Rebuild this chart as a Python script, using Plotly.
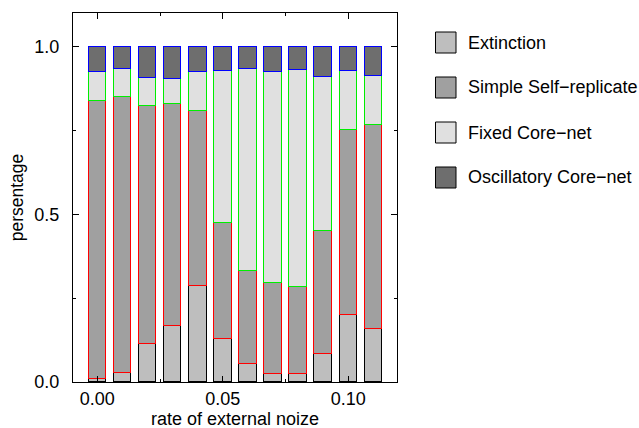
import plotly.graph_objects as go

# ---- data ----
noise_rates = [0.00, 0.01, 0.02, 0.03, 0.04, 0.05, 0.06, 0.07, 0.08, 0.09, 0.10, 0.11]
series_names = ["Extinction", "Simple Self\u2212replicate", "Fixed Core\u2212net", "Oscillatory Core\u2212net"]
extinction = [0.010, 0.028, 0.114, 0.166, 0.285, 0.127, 0.054, 0.023, 0.023, 0.083, 0.201, 0.158]
simple_self_replicate = [0.827, 0.822, 0.709, 0.663, 0.523, 0.347, 0.276, 0.272, 0.260, 0.367, 0.551, 0.607]
fixed_core_net = [0.088, 0.082, 0.082, 0.073, 0.117, 0.453, 0.603, 0.630, 0.648, 0.458, 0.175, 0.148]
oscillatory_core_net = [0.075, 0.068, 0.095, 0.098, 0.075, 0.073, 0.067, 0.075, 0.069, 0.092, 0.073, 0.087]
x_tick_vals = [0.00, 0.05, 0.10]
x_tick_text = ["0.00", "0.05", "0.10"]
y_tick_vals = [0.0, 0.5, 1.0]
y_tick_text = ["0.0", "0.5", "1.0"]
x_title = "rate of external noize"
y_title = "persentage"

# ---- styles ----
fills = ["#bebebe", "#a0a0a0", "#e0e0e0", "#6e6e6e"]
outlines = ["#000000", "#ff0000", "#00ee00", "#0000ff"]
FONT = "Liberation Sans, Arial, Helvetica, sans-serif"
FS = 18

W, H = 639, 428
ML, MR, MT, MB = 73, 242, 13, 46

fig = go.Figure()
for name, vals, fc, lc in zip(series_names,
                              [extinction, simple_self_replicate, fixed_core_net, oscillatory_core_net],
                              fills, outlines):
    fig.add_trace(go.Bar(x=noise_rates, y=vals, name=name, width=0.007,
                         marker=dict(color=fc, line=dict(color=lc, width=1)),
                         showlegend=False))

# helpers: pixel position -> paper coordinates
pw = W - ML - MR
ph = H - MT - MB
def px_x(p):
    return (p - ML) / pw
def px_y(p):
    return 1 - (p - MT) / ph

# manual legend (big square patches, like the reference)
row_centers = [42.5, 87.5, 132.5, 177.5]
for name, fc, yc in zip(series_names, fills, row_centers):
    fig.add_shape(type="rect", xref="paper", yref="paper",
                  x0=px_x(435.5), x1=px_x(456), y0=px_y(yc - 10.5), y1=px_y(yc + 10.5),
                  fillcolor=fc, line=dict(color="#000000", width=1))
    fig.add_annotation(xref="paper", yref="paper", x=px_x(466), y=px_y(yc),
                       text=name, showarrow=False, xanchor="left", yanchor="middle",
                       font=dict(family=FONT, size=FS, color="#000000"))

# x-axis title as annotation (placed lower than the margin allows for axis titles)
fig.add_annotation(xref="paper", yref="paper", x=0.5, y=px_y(419), borderpad=0,
                   text=x_title, showarrow=False, xanchor="center", yanchor="middle",
                   font=dict(family=FONT, size=FS, color="#000000"))

fig.update_layout(
    barmode="stack",
    width=W, height=H,
    margin=dict(l=ML, r=MR, t=MT, b=MB, autoexpand=False),
    paper_bgcolor="white", plot_bgcolor="white",
    font=dict(family=FONT, size=FS, color="#000000"),
    showlegend=False,
    bargap=0,
)
fig.update_xaxes(range=[-0.0097, 0.1194], showline=True, linecolor="black", linewidth=1,
                 mirror="allticks", ticks="inside", ticklen=6, tickcolor="black",
                 tickvals=x_tick_vals, ticktext=x_tick_text,
                 minor=dict(tickvals=[0.025, 0.075], ticks="inside", ticklen=3, tickcolor="black"),
                 showgrid=False, zeroline=False, automargin=False,
                 tickfont=dict(size=FS))
fig.update_yaxes(range=[0, 1.1], showline=True, linecolor="black", linewidth=1,
                 mirror="allticks", ticks="inside", ticklen=6, tickcolor="black",
                 tickvals=y_tick_vals, ticktext=y_tick_text, ticklabelstandoff=9,
                 minor=dict(tickvals=[0.25, 0.75], ticks="inside", ticklen=3, tickcolor="black"),
                 showgrid=False, zeroline=False, automargin=False,
                 title=dict(text=y_title, standoff=6, font=dict(size=17.5)),
                 tickfont=dict(size=FS))

fig.write_html("out.html", config={"displayModeBar": False})
# remove the default page margin so the figure sits at the window's top-left corner
with open("out.html", encoding="utf-8") as f:
    html = f.read()
html = html.replace("<body>", '<body style="margin:0;padding:0;">', 1)
with open("out.html", "w", encoding="utf-8") as f:
    f.write(html)
